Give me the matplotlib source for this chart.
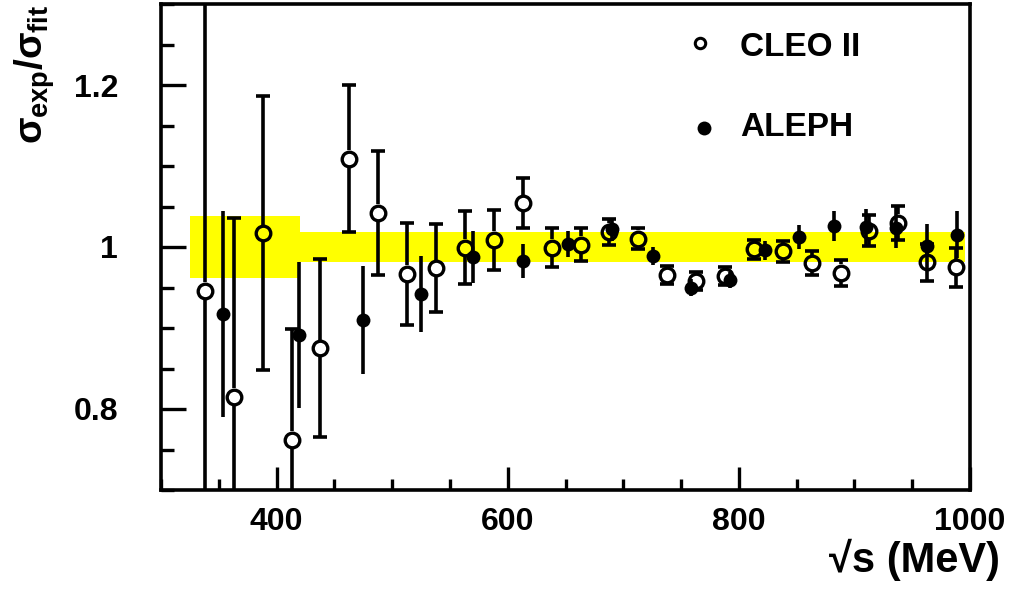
import matplotlib
matplotlib.use("Agg")
import matplotlib.pyplot as plt
from matplotlib.ticker import FixedLocator, MultipleLocator, FixedFormatter

plt.rcParams["font.family"] = ["Liberation Sans", "DejaVu Sans"]
plt.rcParams["font.weight"] = "bold"
plt.rcParams["mathtext.fontset"] = "custom"
plt.rcParams["mathtext.rm"] = "Liberation Sans:bold"
plt.rcParams["mathtext.it"] = "Liberation Sans"
plt.rcParams["mathtext.bf"] = "Liberation Sans:bold"

# CLEO II (open circles)
cleo_x = [338, 363, 388, 413, 438, 463, 488, 513, 538, 563, 588, 613, 638, 663,
          688, 713, 738, 763, 788, 813, 838, 863, 888, 913, 938, 963, 988]
cleo_y = [0.946, 0.815, 1.017, 0.762, 0.875, 1.109, 1.042, 0.967, 0.974, 0.999,
          1.009, 1.054, 0.999, 1.003, 1.019, 1.010, 0.965, 0.958, 0.964, 0.997,
          0.995, 0.980, 0.968, 1.020, 1.030, 0.981, 0.975]
cleo_err = [0.50, 0.221, 0.169, 0.137, 0.110, 0.091, 0.076, 0.063, 0.054, 0.045,
            0.037, 0.031, 0.024, 0.020, 0.016, 0.013, 0.011, 0.011, 0.011, 0.012,
            0.013, 0.015, 0.016, 0.019, 0.021, 0.023, 0.024]

# ALEPH (filled circles)
aleph_x = [354, 419, 475, 525, 570, 613, 652, 690, 726, 759, 792, 823, 852, 882,
           910, 936, 963, 989]
aleph_y = [0.917, 0.891, 0.910, 0.942, 0.988, 0.983, 1.004, 1.022, 0.989, 0.950,
           0.959, 0.996, 1.012, 1.026, 1.025, 1.024, 1.001, 1.015]
aleph_err = [0.127, 0.090, 0.067, 0.047, 0.032, 0.021, 0.016, 0.014, 0.011, 0.010,
             0.010, 0.012, 0.015, 0.018, 0.022, 0.025, 0.028, 0.029]

# normalisation uncertainty bands: (x_start, x_end, half width)
band_x0 = [325, 420]
band_x1 = [420, 996]
band_hw = [0.038, 0.019]

y_ticks = [0.8, 1.0, 1.2]
y_labels = ["0.8", "1", "1.2"]
x_ticks = [400, 600, 800, 1000]

fig = plt.figure(figsize=(10.13, 5.99), dpi=100)
ax = fig.add_axes([161 / 1013, 1 - 490 / 599, 809 / 1013, 486 / 599])
ax.set_xlim(300, 1000)
ax.set_ylim(0.7, 1.3)

for x0, x1, hw in zip(band_x0, band_x1, band_hw):
    ax.fill_between([x0, x1], 1 - hw, 1 + hw, color="#ffff00", lw=0, zorder=1)

lw = 2.6
# ALEPH: filled markers hide the bar behind them
ax.errorbar(aleph_x, aleph_y, yerr=aleph_err, fmt="o", color="black", ms=10,
            mew=0, elinewidth=lw, capsize=5, capthick=lw, zorder=3)

# CLEO: bars stop at the open marker edge
gap = 0.0105
for x, y, e in zip(cleo_x, cleo_y, cleo_err):
    if e > gap:
        ax.vlines(x, y - e, y - gap, color="black", lw=lw, zorder=3)
        ax.vlines(x, y + gap, y + e, color="black", lw=lw, zorder=3)
    ax.plot([x, x], [y - e, y + e], ls="none", marker="_", ms=10, mew=lw,
            color="black", zorder=3)
ax.plot(cleo_x, cleo_y, ls="none", marker="o", ms=10.5, mew=2.4,
        mfc="none", mec="black", zorder=4)

for s in ax.spines.values():
    s.set_linewidth(2.6)

ax.xaxis.set_major_locator(FixedLocator(x_ticks))
ax.xaxis.set_minor_locator(MultipleLocator(50))
ax.yaxis.set_major_locator(FixedLocator(y_ticks))
ax.yaxis.set_major_formatter(FixedFormatter(y_labels))
ax.yaxis.set_minor_locator(MultipleLocator(0.05))
ax.tick_params(axis="both", which="both", direction="in", width=2.4,
               top=False, right=False, labelsize=23)
ax.tick_params(axis="x", which="major", length=16.5, pad=12)
ax.tick_params(axis="x", which="minor", length=8)
ax.tick_params(axis="y", which="major", length=18, pad=31)
ax.tick_params(axis="y", which="minor", length=9)
for lab in ax.get_xticklabels() + ax.get_yticklabels():
    lab.set_fontweight("bold")

# legend drawn by hand
ax.plot([0.666], [0.920], transform=ax.transAxes, marker="o", ms=7.5, mew=2.2,
        mfc="none", mec="black", clip_on=False)
ax.plot([0.671], [0.745], transform=ax.transAxes, marker="o", ms=10, mew=0,
        color="black", clip_on=False)
ax.text(0.716, 0.911, "CLEO II", transform=ax.transAxes, fontsize=24,
        fontweight="bold", va="center", ha="left")
ax.text(0.716, 0.745, "ALEPH", transform=ax.transAxes, fontsize=24,
        fontweight="bold", va="center", ha="left")

fig.text(1000 / 1013, 1 - 560 / 599, "√s (MeV)", fontsize=30, fontweight="bold",
         ha="right", va="center")
fig.text(35 / 1013, 1 - 5 / 599, r"$\sigma_{exp}/\sigma_{fit}$", fontsize=28,
         rotation=90, ha="center", va="top")

fig.savefig("out.png", dpi=100)
